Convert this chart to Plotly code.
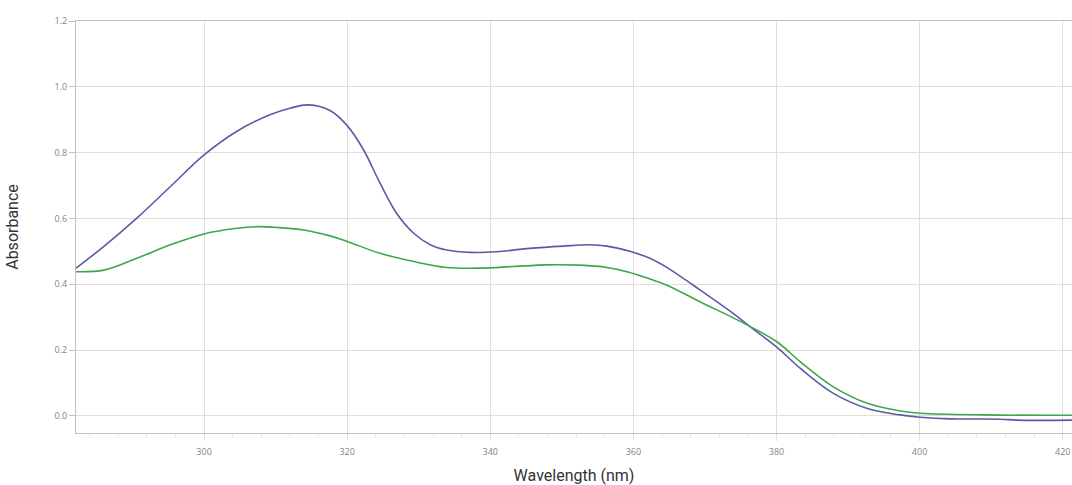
import plotly.graph_objects as go

# Blue spectrum
wl_blue = [282.1, 286.0, 290.6, 295.3, 300.0, 304.6, 309.2, 312.0, 314.6, 317.6, 320.0, 322.3,
           324.6, 326.9, 329.3, 331.6, 333.9, 337.2, 340.9, 345.5, 350.2, 353.9, 356.3, 359.5,
           362.3, 364.6, 369.3, 373.9, 376.3, 380.0, 383.3, 387.9, 392.6, 397.3, 400.1, 404.3,
           411.3, 413.6, 421.3]
abs_blue = [0.449, 0.515, 0.601, 0.697, 0.793, 0.865, 0.915, 0.935, 0.945, 0.928, 0.882, 0.808,
            0.707, 0.616, 0.555, 0.520, 0.504, 0.497, 0.499, 0.509, 0.516, 0.520, 0.516, 0.500,
            0.479, 0.452, 0.383, 0.312, 0.271, 0.210, 0.145, 0.069, 0.023, 0.003, -0.004, -0.009,
            -0.010, -0.013, -0.013]

# Green spectrum
wl_green = [282.1, 286.0, 290.6, 295.3, 300.0, 304.6, 307.5, 310.5, 313.9, 317.6, 320.0, 324.6,
            329.3, 333.9, 338.6, 343.2, 347.9, 352.5, 356.3, 359.5, 362.3, 364.6, 369.3, 375.4,
            380.0, 383.3, 387.9, 392.6, 397.3, 400.1, 408.9, 421.3]
abs_green = [0.438, 0.443, 0.479, 0.520, 0.553, 0.570, 0.575, 0.572, 0.565, 0.547, 0.530, 0.494,
             0.469, 0.451, 0.449, 0.454, 0.459, 0.458, 0.451, 0.436, 0.416, 0.398, 0.347, 0.282,
             0.226, 0.165, 0.089, 0.039, 0.015, 0.008, 0.003, 0.002]

x_ticks = [300, 320, 340, 360, 380, 400, 420]
y_ticks = [0.0, 0.2, 0.4, 0.6, 0.8, 1.0, 1.2]
y_tick_labels = ["0.0", "0.2", "0.4", "0.6", "0.8", "1.0", "1.2"]

fig = go.Figure()
fig.add_trace(go.Scatter(x=wl_blue, y=abs_blue, mode="lines", line=dict(color="#5b5aa6", width=1.6, shape="spline", smoothing=1.0), showlegend=False))
fig.add_trace(go.Scatter(x=wl_green, y=abs_green, mode="lines", line=dict(color="#3fa64a", width=1.6, shape="spline", smoothing=1.0), showlegend=False))

axis_line = "#cbbfbb"
grid = "#e3dcd8"
fig.update_layout(
    width=1072, height=485,
    margin=dict(l=76, r=0, t=21, b=52, autoexpand=False),
    paper_bgcolor="white", plot_bgcolor="white",
    font=dict(family="Roboto, sans-serif", color="#333"),
    xaxis=dict(
        range=[282.1, 421.3], tickvals=x_ticks, ticks="outside", ticklen=7, tickcolor=grid,
        tickfont=dict(size=9, color="#8a8280", family="Open Sans, sans-serif"),
        ticklabelstandoff=3,
        showgrid=True, gridcolor=grid, gridwidth=1, showline=True, linecolor=axis_line, linewidth=1,
        mirror=True, zeroline=False, automargin=False,
        minor=dict(dtick=4, tick0=280, ticks="outside", ticklen=3, tickcolor="#e8e2df", showgrid=False),
        title=dict(text="Wavelength (nm)", font=dict(size=16, color="#333"), standoff=15),
    ),
    yaxis=dict(
        range=[-0.052, 1.2], tickvals=y_ticks, ticktext=y_tick_labels, ticks="outside", ticklen=6,
        tickcolor=axis_line, automargin=False,
        tickfont=dict(size=9, color="#8a8280", family="Open Sans, sans-serif"),
        showgrid=True, gridcolor=grid, gridwidth=1, showline=True, linecolor=axis_line, linewidth=1,
        zeroline=False,
        title=dict(text="Absorbance", font=dict(size=16, color="#333"), standoff=31),
    ),
)

fig.write_html(
    "out.html",
    config={"displayModeBar": False},
    post_script="document.body.style.margin='0';document.body.style.padding='0';document.body.style.overflow='hidden';",
)
